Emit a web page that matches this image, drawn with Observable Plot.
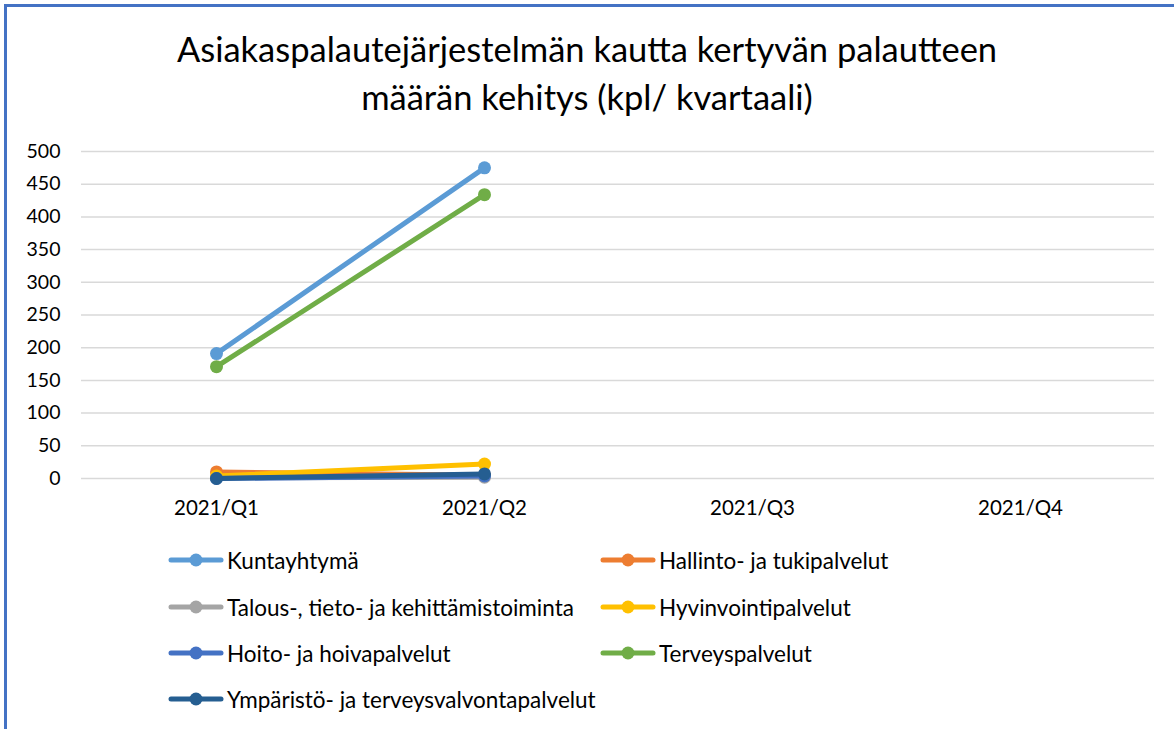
<!DOCTYPE html>
<html>
<head>
<meta charset="utf-8">
<script src="https://cdn.jsdelivr.net/npm/d3@7"></script>
<script src="https://cdn.jsdelivr.net/npm/@observablehq/plot@0.6"></script>
<style>
  html, body { margin: 0; padding: 0; background: #fff; }
  body { width: 1174px; height: 729px; overflow: hidden; position: relative; font-family: Lato, "Open Sans", sans-serif; color: #000; }
  #frame { position: absolute; left: 4px; top: 4px; width: 1200px; height: 760px; border-left: 3px solid #4472c4; border-top: 3px solid #4472c4; box-sizing: border-box; }
  #title { position: absolute; left: 0; top: 25px; width: 1174px; text-align: center; font-size: 34.5px; line-height: 48px; font-weight: 400; }
  #chart { position: absolute; left: 0; top: 130px; }
  #legend { position: absolute; left: 0; top: 0; }
  .item { position: absolute; display: flex; align-items: center; font-size: 22.5px; height: 30px; white-space: nowrap; }
  .item svg { margin-right: 3px; }
</style>
</head>
<body>
<div id="frame"></div>
<div id="title">Asiakaspalautejärjestelmän kautta kertyvän palautteen<br>määrän kehitys (kpl/ kvartaali)</div>
<div id="chart"></div>
<div id="legend"></div>
<script>
const quarters = ["2021/Q1", "2021/Q2", "2021/Q3", "2021/Q4"];
const seriesNames = [
  "Kuntayhtymä",
  "Hallinto- ja tukipalvelut",
  "Talous-, tieto- ja kehittämistoiminta",
  "Hyvinvointipalvelut",
  "Hoito- ja hoivapalvelut",
  "Terveyspalvelut",
  "Ympäristö- ja terveysvalvontapalvelut"
];
const seriesColors = ["#5B9BD5", "#ED7D31", "#A5A5A5", "#FFC000", "#4472C4", "#70AD47", "#255E91"];
const kuntayhtyma = [191, 475, null, null];
const hallinto = [10, 5, null, null];
const talous = [1, 2, null, null];
const hyvinvointi = [4, 22, null, null];
const hoito = [0, 4, null, null];
const terveys = [171, 434, null, null];
const ymparisto = [0, 7, null, null];
const yTicks = [0, 50, 100, 150, 200, 250, 300, 350, 400, 450, 500];

const seriesValues = [kuntayhtyma, hallinto, talous, hyvinvointi, hoito, terveys, ymparisto];
const rows = [];
seriesNames.forEach((s, i) => {
  seriesValues[i].forEach((v, j) => {
    if (v != null) rows.push({series: s, quarter: quarters[j], value: v});
  });
});

const seriesMarks = seriesNames.flatMap((s) => {
  const d = rows.filter(r => r.series === s);
  return [
    Plot.line(d, {x: "quarter", y: "value", stroke: "series", strokeWidth: 5, strokeLinecap: "round"}),
    Plot.dot(d, {x: "quarter", y: "value", fill: "series", r: 6.5})
  ];
});

const chart = Plot.plot({
  width: 1174,
  height: 400,
  marginLeft: 81,
  marginRight: 20,
  marginTop: 21,
  marginBottom: 52,
  style: {fontFamily: "Lato, 'Open Sans', sans-serif", fontSize: "19px", color: "#000", background: "transparent"},
  x: {type: "point", domain: quarters, padding: 0.5, label: null},
  y: {domain: [0, 500], label: null},
  color: {domain: seriesNames, range: seriesColors},
  marks: [
    Plot.gridY(yTicks, {stroke: "#d9d9d9", strokeOpacity: 1, strokeWidth: 1.5}),
    Plot.axisY(yTicks, {tickSize: 0, tickPadding: 21, fontSize: 19.5, label: null}),
    Plot.axisX(quarters, {tickSize: 0, tickPadding: 22, fontSize: 20.5, label: null}),
    ...seriesMarks
  ]
});
document.getElementById("chart").appendChild(chart);

// legend
const legend = document.getElementById("legend");
const colX = [168, 600];
const rowY = [560, 607, 653, 699];
seriesNames.forEach((s, i) => {
  const col = i % 2, row = Math.floor(i / 2);
  const div = document.createElement("div");
  div.className = "item";
  div.style.left = colX[col] + "px";
  div.style.top = (rowY[row] - 15) + "px";
  const ns = "http://www.w3.org/2000/svg";
  const svg = document.createElementNS(ns, "svg");
  svg.setAttribute("width", 56); svg.setAttribute("height", 16);
  const line = document.createElementNS(ns, "line");
  line.setAttribute("x1", 3); line.setAttribute("x2", 53);
  line.setAttribute("y1", 8); line.setAttribute("y2", 8);
  line.setAttribute("stroke", seriesColors[i]); line.setAttribute("stroke-width", 5);
  line.setAttribute("stroke-linecap", "round");
  const c = document.createElementNS(ns, "circle");
  c.setAttribute("cx", 28); c.setAttribute("cy", 8); c.setAttribute("r", 6.5);
  c.setAttribute("fill", seriesColors[i]);
  svg.appendChild(line); svg.appendChild(c);
  const span = document.createElement("span");
  span.textContent = s;
  div.appendChild(svg); div.appendChild(span);
  legend.appendChild(div);
});
</script>
</body>
</html>
